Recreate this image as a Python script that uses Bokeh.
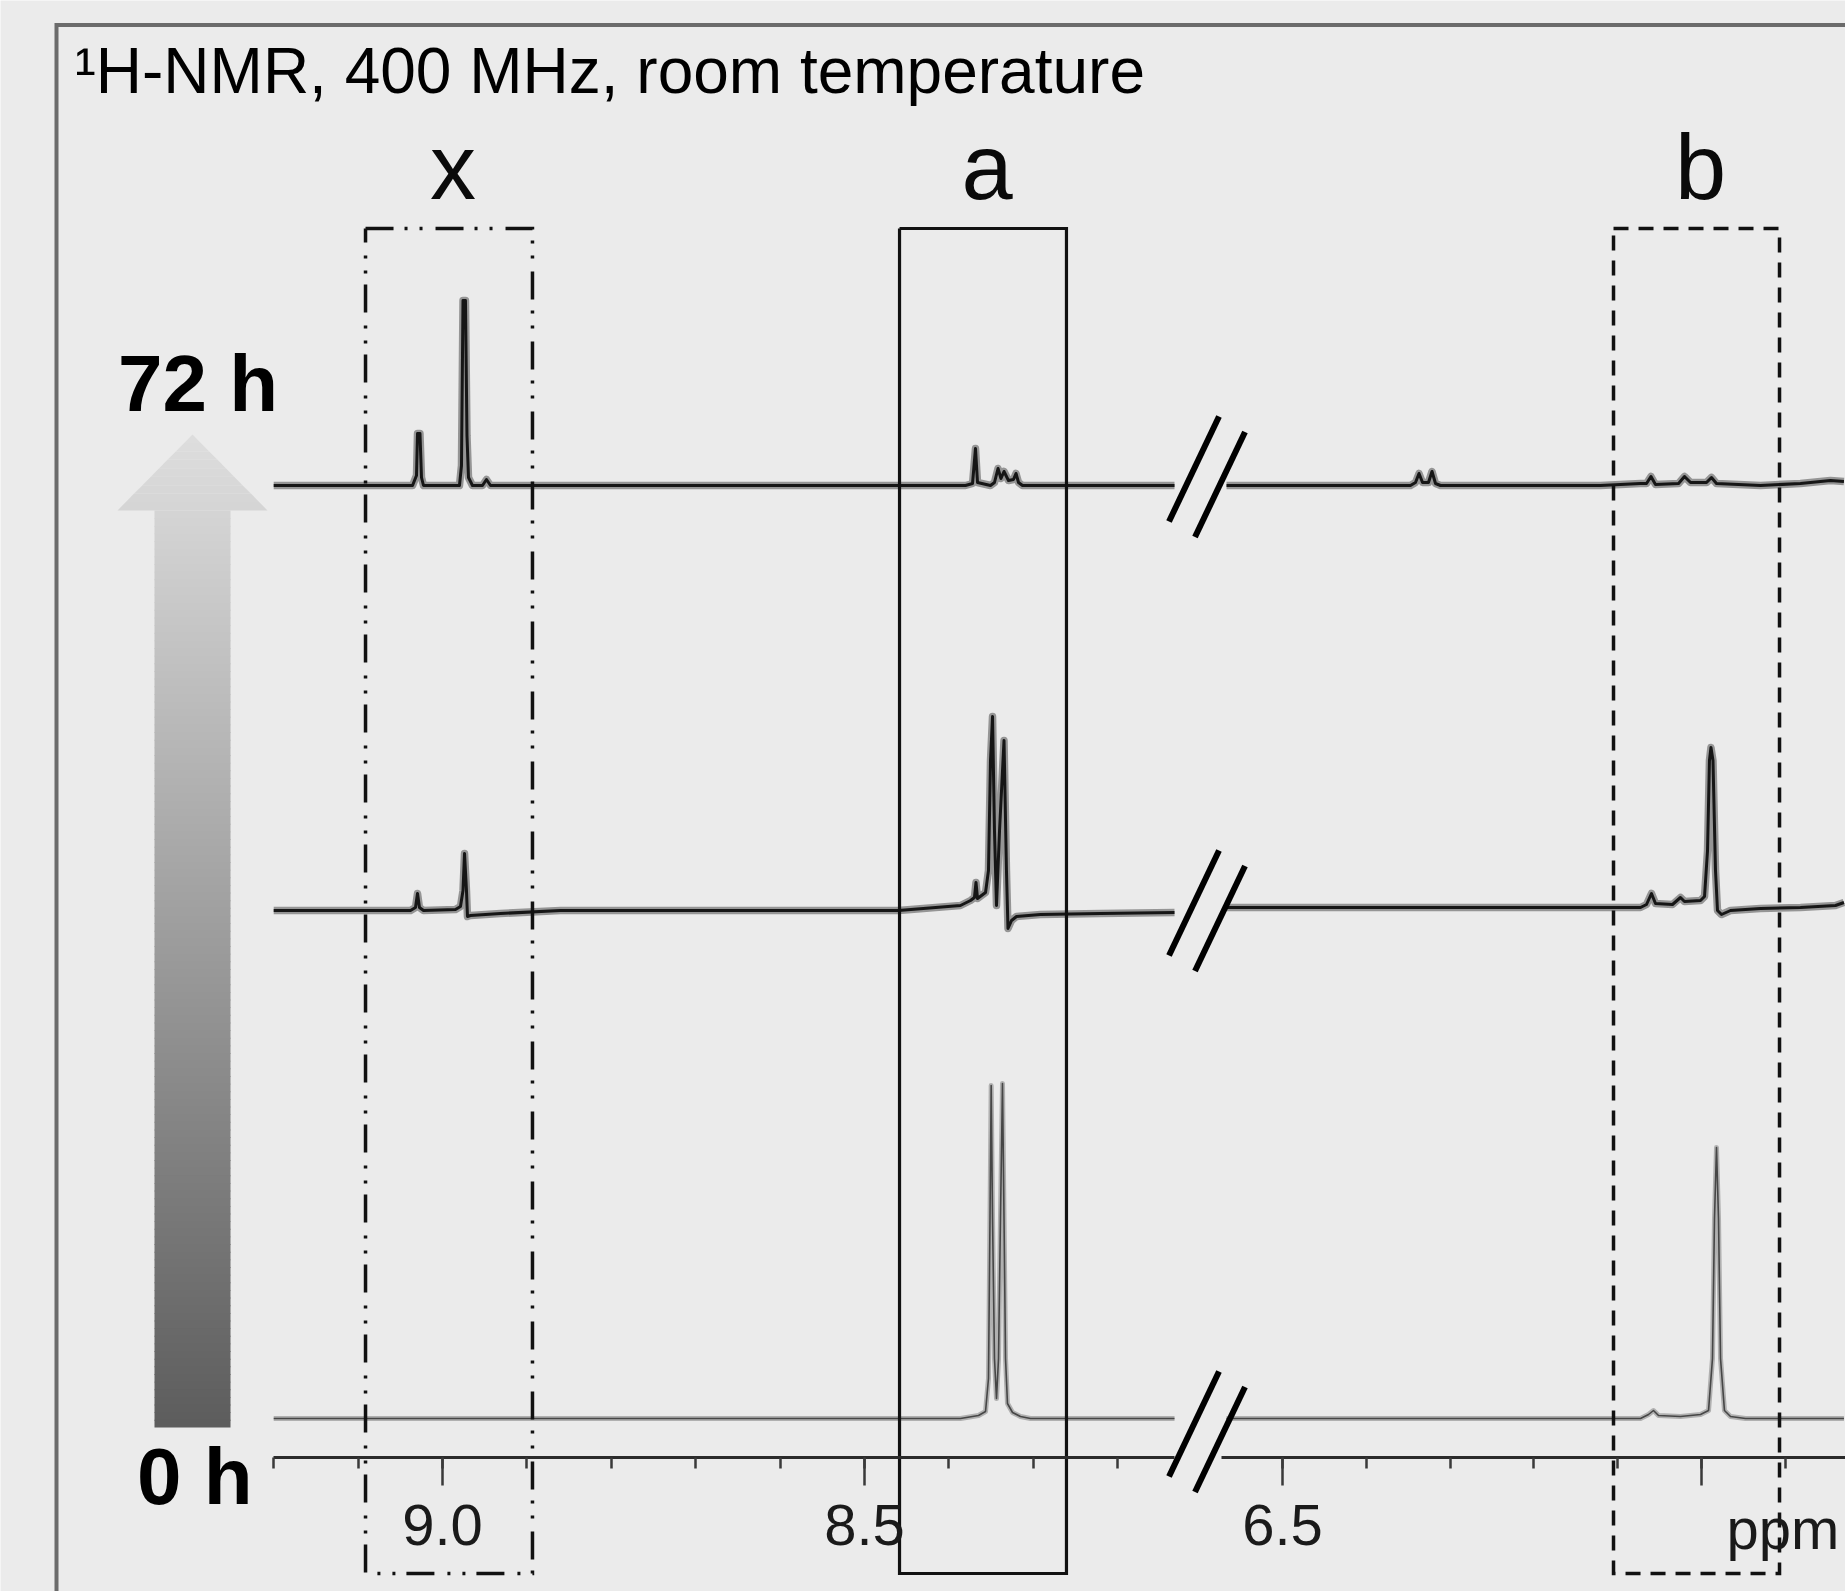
import numpy as np
from bokeh.plotting import figure
from bokeh.models import Range1d, LinearAxis, SingleIntervalTicker
from bokeh.core.properties import value
from bokeh.embed import file_html
from bokeh.resources import INLINE

# ---------------- data ----------------
TITLE = "¹H-NMR, 400 MHz, room temperature"
TIME_LABELS = ["72 h", "0 h"]

REGION_LABELS = ["x", "a", "b"]
REGION_PPM_START = [9.0912, 8.4585, 6.1050]
REGION_PPM_END = [8.8934, 8.2607, 5.9069]

AXIS_LEFT_BOUNDS = (8.1327, 9.2001)
AXIS_RIGHT_BOUNDS = (5.80, 6.5728)
TICKS_LEFT = [9.0, 8.5]
TICK_LABELS_LEFT = ["9.0", "8.5"]
TICKS_RIGHT = [6.5, 6.0]
TICK_LABELS_RIGHT = ["6.5", ""]
UNIT_LABEL = "ppm"

# 72 h spectrum (intensity, arbitrary units)
S72_LEFT_PPM = [9.2000, 9.0355, 9.0308, 9.0296, 9.0267, 9.0249, 9.0225, 8.9799, 8.9775,
                8.9757, 8.9728, 8.9710, 8.9692, 8.9645, 8.9526, 8.9479, 8.9431, 8.3803,
                8.3720, 8.3685, 8.3661, 8.3507, 8.3460, 8.3418, 8.3383, 8.3347, 8.3294,
                8.3235, 8.3205, 8.3175, 8.3128, 8.1327]
S72_LEFT_INT = [0, 0, 10, 52, 52, 8, 0, 0, 20, 185, 185, 50, 8, 0, 0, 6, 0, 0,
                2, 37, 3, 0, 3, 17, 7, 14, 5, 6, 12, 3, 0, 0]
S72_RIGHT_PPM = [6.5668, 6.3473, 6.3413, 6.3371, 6.3329, 6.3258, 6.3216, 6.3174, 6.3115,
                 6.1205, 6.0728, 6.0656, 6.0603, 6.0549, 6.0274, 6.0203, 6.0131, 5.9940,
                 5.9881, 5.9821, 5.9296, 5.8819, 5.8461, 5.8300]
S72_RIGHT_INT = [0, 0, 3, 12, 3, 3, 14, 2, 0, 0, 2, 2, 9, 1, 2, 9, 3, 3, 8, 2, 0, 2, 5, 4]

# intermediate spectrum
SMID_LEFT_PPM = [9.2000, 9.0379, 9.0320, 9.0296, 9.0273, 9.0225, 8.9846, 8.9787, 8.9757,
                 8.9739, 8.9716, 8.9704, 8.9668, 8.9313, 8.8602, 8.4597, 8.3863, 8.3744,
                 8.3697, 8.3679, 8.3661, 8.3566, 8.3531, 8.3507, 8.3483, 8.3460, 8.3436,
                 8.3400, 8.3347, 8.3318, 8.3300, 8.3258, 8.3199, 8.2915, 8.2204, 8.1327]
SMID_LEFT_INT = [0, 0, 3, 17, 3, 0, 1, 4, 20, 57, 20, -6, -5, -3, 0, 0, 5, 10,
                 13, 28, 12, 18, 40, 150, 194, 80, 5, 80, 170, 40, -18, -10, -6, -4, -3, -2]
SMID_RIGHT_PPM = [6.5668, 6.3353, 6.0728, 6.0656, 6.0597, 6.0549, 6.0346, 6.0251, 6.0203,
                  6.0012, 5.9964, 5.9928, 5.9905, 5.9887, 5.9863, 5.9833, 5.9809, 5.9761,
                  5.9654, 5.9296, 5.8819, 5.8401, 5.8300]
SMID_RIGHT_INT = [3, 3, 3, 6, 17, 7, 6, 13, 9, 10, 14, 60, 150, 163, 150, 40, 0, -4,
                  0, 2, 3, 5, 8]

# 0 h spectrum
S0_LEFT_PPM = [9.2000, 8.3863, 8.3649, 8.3566, 8.3531, 8.3513, 8.3499, 8.3483, 8.3460,
               8.3436, 8.3412, 8.3389, 8.3365, 8.3347, 8.3329, 8.3306, 8.3246, 8.3152,
               8.3033, 8.1327]
S0_LEFT_INT = [0, 0, 3, 7, 40, 200, 333, 200, 60, 20, 60, 200, 335, 200, 60, 15, 6, 2, 0, 0]
S0_RIGHT_PPM = [6.5668, 6.0728, 6.0632, 6.0573, 6.0513, 6.0251, 6.0012, 5.9916, 5.9869,
                5.9845, 5.9821, 5.9797, 5.9773, 5.9726, 5.9654, 5.9475, 5.8300]
S0_RIGHT_INT = [0, 0, 4, 8, 3, 2, 4, 8, 60, 200, 271, 200, 60, 8, 2, 0, 0]

# ---------------- layout / style ----------------
BG = "#ebebeb"
W, H = 1845, 1591
PXL, REF_L_PPM, REF_L_X = 844.0, 9.0, 442.0
PXR, REF_R_PPM, REF_R_X = 838.0, 6.5, 1282.0
AXIS_Y = 1457
BASE_Y = [485, 910, 1418]

xl = Range1d(REF_L_PPM + REF_L_X / PXL, REF_L_PPM - (W - REF_L_X) / PXL)
xr = Range1d(REF_R_PPM + REF_R_X / PXR, REF_R_PPM - (W - REF_R_X) / PXR)

p = figure(width=W, height=H, x_range=xl, y_range=Range1d(H, 0),
           output_backend="svg", toolbar_location=None, tools="", min_border=0,
           x_axis_type=None, y_axis_type=None,
           background_fill_color=BG, border_fill_color=BG, outline_line_color=None)
p.extra_x_ranges = {"r": xr, "px": Range1d(0, W)}

# frame border
p.line([56, 56, 1950], [1700, 24.5, 24.5], x_range_name="px", line_width=4,
       line_color="#6b6b6b", line_join="miter")

# gradient arrow
y_tip, y_base, y_bot, cx = 434.0, 510.0, 1427.0, 192.0
edges = np.concatenate([np.linspace(y_tip, y_base, 10), np.linspace(y_base, y_bot, 121)[1:]])
axs, ays, acol = [], [], []
for y0, y1 in zip(edges[:-1], edges[1:]):
    y1e = min(y1 + 0.9, y_bot)
    if y1 <= y_base + 1e-9:
        h0 = 75.0 * (y0 - y_tip) / (y_base - y_tip)
        h1 = 75.0 * (y1 - y_tip) / (y_base - y_tip)
        y1e = y1
    else:
        h0 = h1 = 38.0
    axs.append([cx - h0, cx + h0, cx + h1, cx - h1])
    ays.append([y0, y0, y1e, y1e])
    t = ((y0 + y1) / 2 - y_tip) / (y_bot - y_tip)
    g = int(round(222 - (222 - 92) * t))
    acol.append("#%02x%02x%02x" % (g, g, g))
p.patches(axs, ays, x_range_name="px", fill_color=acol, line_color=None)

# spectra
spectra = [
    (S72_LEFT_PPM, S72_LEFT_INT, S72_RIGHT_PPM, S72_RIGHT_INT, BASE_Y[0], True),
    (SMID_LEFT_PPM, SMID_LEFT_INT, SMID_RIGHT_PPM, SMID_RIGHT_INT, BASE_Y[1], True),
    (S0_LEFT_PPM, S0_LEFT_INT, S0_RIGHT_PPM, S0_RIGHT_INT, BASE_Y[2], False),
]
for lp, li, rp, ri, base, noisy in spectra:
    for xs, ints, rn in ((lp, li, "default"), (rp, ri, "r")):
        ys = [base - v for v in ints]
        if noisy:
            p.line(xs, ys, x_range_name=rn, line_width=7.5, line_color="#959595", line_join="round")
            p.line(xs, ys, x_range_name=rn, line_width=3.0, line_color="#161616", line_join="round")
        else:
            p.line(xs, ys, x_range_name=rn, line_width=5, line_color="#b0b0b0", line_join="round")
            p.line(xs, ys, x_range_name=rn, line_width=1.6, line_color="#464646", line_join="round")

# region boxes
BOX_TOP, BOX_BOT = 228, 1573
box_styles = [("default", "28 11 3 12 3 13", 3.5), ("default", "solid", 3.2), ("r", "15 10", 3.5)]
for (rn, dash, lw), a, b in zip(box_styles, REGION_PPM_START, REGION_PPM_END):
    p.line([a, b, b, a, a], [BOX_TOP, BOX_TOP, BOX_BOT, BOX_BOT, BOX_TOP], x_range_name=rn,
           line_width=lw, line_color="#111111", line_dash=dash, line_join="miter")

# region letters
for rn, idx in (("default", [0, 1]), ("r", [2])):
    p.text(x=[(REGION_PPM_START[i] + REGION_PPM_END[i]) / 2 for i in idx], y=[166] * len(idx),
           text=[REGION_LABELS[i] for i in idx], x_range_name=rn, x_offset=4,
           text_font=value("Liberation Sans"), text_font_size=value("92px"),
           text_align="center", text_baseline="alphabetic", text_color="#0a0a0a")

# axis break marks
BREAK_CY = [468.5, 902.5, 1423.5]
sx0, sy0, sx1, sy1 = [], [], [], []
for cy in BREAK_CY:
    for dx, dy in ((0, 0), (26, 15.5)):
        sx0.append(1193.5 + dx - 25); sy0.append(cy + dy + 52.5)
        sx1.append(1193.5 + dx + 25); sy1.append(cy + dy - 52.5)
p.segment(sx0, sy0, sx1, sy1, x_range_name="px", line_width=6, line_color="#000000", line_cap="butt")

# axes (broken)
def add_axis(rn, bounds, ticks, labels):
    ax = LinearAxis(ticker=SingleIntervalTicker(interval=0.5, num_minor_ticks=5),
                    bounds=bounds, fixed_location=AXIS_Y)
    if rn != "default":
        ax.x_range_name = rn
    ax.axis_line_width = 3
    ax.axis_line_color = "#2b2b2b"
    ax.major_tick_in = 0
    ax.major_tick_out = 28
    ax.minor_tick_in = 0
    ax.minor_tick_out = 11
    ax.major_tick_line_width = 2.5
    ax.minor_tick_line_width = 2.5
    ax.major_tick_line_color = "#3a3a3a"
    ax.minor_tick_line_color = "#3a3a3a"
    ax.major_label_text_font = "Liberation Sans"
    ax.major_label_text_font_size = "58px"
    ax.major_label_text_color = "#1a1a1a"
    ax.major_label_standoff = 19
    ax.major_label_overrides = {t: s for t, s in zip(ticks, labels)}
    p.add_layout(ax, "below")

add_axis("default", AXIS_LEFT_BOUNDS, TICKS_LEFT, TICK_LABELS_LEFT)
add_axis("r", AXIS_RIGHT_BOUNDS, TICKS_RIGHT, TICK_LABELS_RIGHT)

p.text(x=[1726], y=[1528], text=[UNIT_LABEL], x_range_name="px",
       text_font=value("Liberation Sans"), text_font_size=value("58px"),
       text_align="left", text_baseline="alphabetic", text_color="#1a1a1a")

# title
p.text(x=[74], y=[70], text=[TITLE], x_range_name="px",
       text_font=value("Liberation Sans"), text_font_size=value("64px"),
       text_align="left", text_baseline="alphabetic", text_color="#000000")

# time labels
p.text(x=[197.5, 194.3], y=[383, 1476], text=TIME_LABELS, x_range_name="px",
       text_font=value("Liberation Sans"), text_font_size=value("80px"), text_font_style="bold",
       text_align="center", text_baseline="alphabetic", text_color="#000000")

open("out.html", "w").write(file_html(p, INLINE))
